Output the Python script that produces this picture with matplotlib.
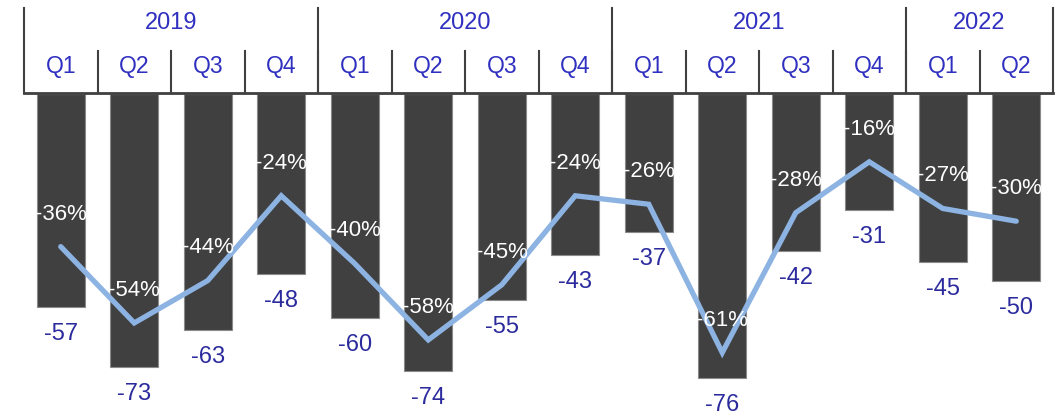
import matplotlib.pyplot as plt

plt.rcParams['font.family'] = ['Liberation Sans', 'DejaVu Sans']

years = ["2019", "2020", "2021", "2022"]
quarters_per_year = [4, 4, 4, 2]
quarters = ["Q1", "Q2", "Q3", "Q4", "Q1", "Q2", "Q3", "Q4",
            "Q1", "Q2", "Q3", "Q4", "Q1", "Q2"]
values = [-57, -73, -63, -48, -60, -74, -55, -43, -37, -76, -42, -31, -45, -50]
pct = [-36, -54, -44, -24, -40, -58, -45, -24, -26, -61, -28, -16, -27, -30]

bar_col = "#404041"
line_col = "#8db3e2"
lab_col = "#2b2b9e"
head_col = "#3030c0"

W, H = 1063, 415
fig = plt.figure(figsize=(W / 100, H / 100), dpi=100)

x0, x1 = 24, 1053
top = 94
ax = fig.add_axes([x0 / W, 0, (x1 - x0) / W, (H - top) / H])
n = len(values)
xs = list(range(n))
ax.bar(xs, values, width=0.65, color=bar_col, edgecolor="#8a8a8a", linewidth=0.8)
ax.set_xlim(-0.5, n - 0.5)
ax.set_ylim(-(H - top) / 3.74, 0)
ax.axis("off")
for x, v in zip(xs, values):
    ax.annotate(str(v), (x, v), xytext=(0, -19.5), textcoords="offset points",
                ha="center", va="center", color=lab_col, fontsize=17)

ax2 = ax.twinx()
ax2.set_ylim(-(H - top) / 4.24, 0)
ax2.set_xlim(-0.5, n - 0.5)
ax2.plot(xs, pct, color=line_col, linewidth=3.8, solid_capstyle="round",
         solid_joinstyle="miter")
ax2.axis("off")
for x, p in zip(xs, pct):
    ax2.annotate(f"{p}%", (x, p), xytext=(0, 23.5), textcoords="offset points",
                 ha="center", va="center", color="white", fontsize=16)

# header with years and quarters
hd = fig.add_axes([x0 / W, (H - top) / H, (x1 - x0) / W, top / H])
hd.set_xlim(-0.5, n - 0.5)
hd.set_ylim(0, top)
hd.axis("off")
sep_col = "#404040"
hd.plot([-0.5, n - 0.5], [1, 1], color=sep_col, linewidth=2, clip_on=False)
start = 0
for yr, k in zip(years, quarters_per_year):
    hd.plot([start - 0.5, start - 0.5], [1, top - 8], color=sep_col, linewidth=1.5, clip_on=False)
    hd.text(start - 0.5 + k / 2, top - 23, yr, ha="center", va="center",
            color=head_col, fontsize=17)
    start += k
hd.plot([n - 0.5, n - 0.5], [1, top - 8], color=sep_col, linewidth=1.5, clip_on=False)
for i, q in enumerate(quarters):
    if i > 0:
        hd.plot([i - 0.5, i - 0.5], [1, top - 51], color=sep_col, linewidth=1.5, clip_on=False)
    hd.text(i, top - 67, q, ha="center", va="center", color=head_col, fontsize=16.5)

fig.savefig("out.png", dpi=100)
